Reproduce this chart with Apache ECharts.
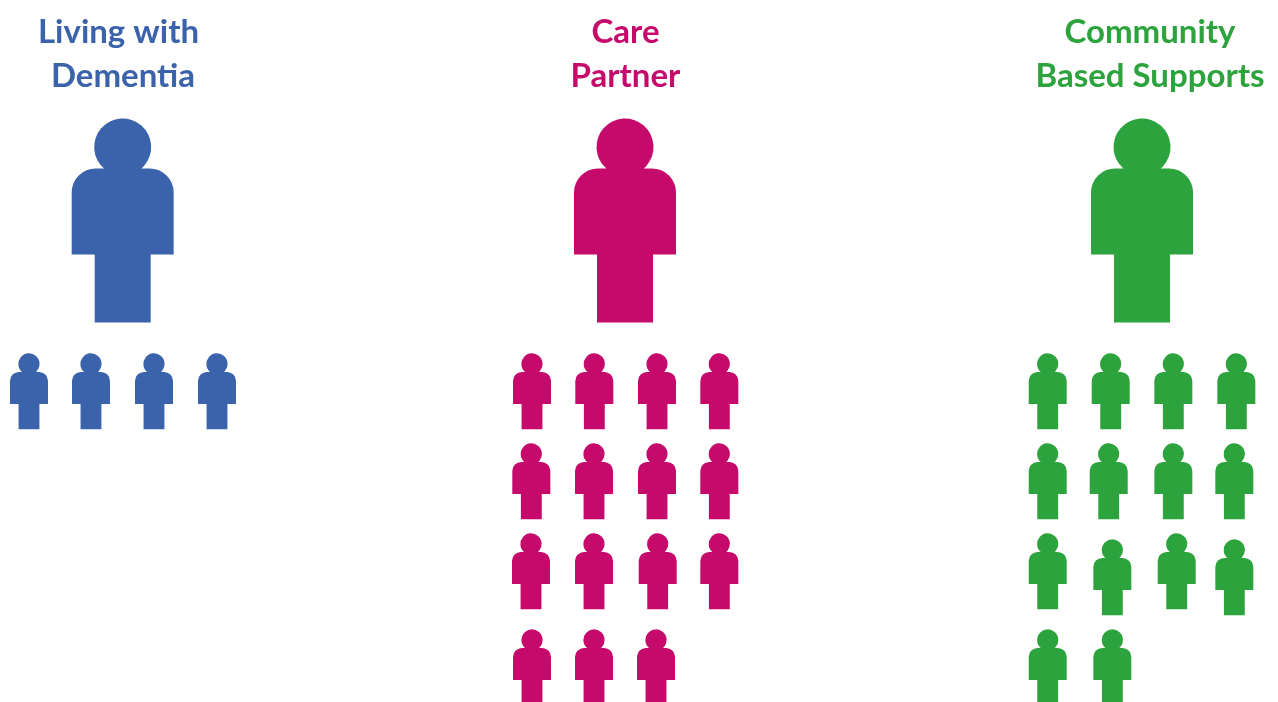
<!DOCTYPE html>
<html>
<head>
<meta charset="utf-8">
<style>
  html, body { margin: 0; padding: 0; background: #ffffff; }
  #chart { width: 1278px; height: 702px; }
</style>
<script src="https://cdn.jsdelivr.net/npm/echarts@6/dist/echarts.min.js"></script>
</head>
<body>
<div id="chart"></div>
<script>
// Group headings, one entry per line of text
const groupTitles = [
  ['Living with', 'Dementia'],
  ['Care', 'Partner'],
  ['Community', 'Based Supports']
];
const groupColors = ['#3b63ab', '#c50a6c', '#2ca33c'];

// Headline figure of each group: [column, row] in layout slots
const headlineFigures = [[1.493, -1.898], [9.498, -1.898], [17.737, -1.898]];

// One small figure per person: [column, row] in layout slots
const livingWithDementia = [[0, 0], [0.988, 0], [1.992, 0], [2.996, 0]];
const carePartner = [
  [8.016, 0], [9.009, 0], [10.008, 0], [11.001, 0],
  [8.005, 1], [9.004, 1], [10.008, 1], [11.001, 1],
  [8, 2], [9.004, 2], [10.019, 2], [11.001, 2],
  [8.016, 3.067], [9.004, 3.067], [9.992, 3.067]
];
const communitySupports = [
  [16.234, 0], [17.238, 0], [18.236, 0], [19.24, 0],
  [16.234, 1], [17.206, 1], [18.236, 1], [19.208, 1],
  [16.234, 2], [17.264, 2.067], [18.29, 2], [19.208, 2.067],
  [16.234, 3.067], [17.264, 3.067]
];
const groupMembers = [livingWithDementia, carePartner, communitySupports];

// Person outline: round head merged into rounded shoulders, arms and legs
const personPath = 'path://M32.3 50A28.5 28.5 0 1 1 69.7 50L78 50A24 24 0 0 1 102 74L102 136L79 136L79 204L23 204L23 136L0 136L0 74A24 24 0 0 1 24 50Z';

const titleLayout = [
  [{ x: 118.5 }, { x: 123 }],
  [{ x: 625.5 }, { x: 625.5 }],
  [{ x: 1150 }, { x: 1150 }]
];
const titleFont = 'Lato';

const titles = [];
groupTitles.forEach((lines, g) => {
  lines.forEach((text, l) => {
    titles.push({
      text,
      left: titleLayout[g][l].x,
      top: 13 + l * 44,
      padding: 0,
      textAlign: 'center',
      textStyle: {
        color: groupColors[g],
        fontFamily: titleFont,
        fontWeight: 'bold',
        fontSize: 33,
        lineHeight: 38
      }
    });
  });
});

const series = [];
groupMembers.forEach((members, g) => {
  series.push({
    type: 'scatter',
    clip: false,
    silent: true,
    symbol: personPath,
    symbolSize: [102, 204],
    itemStyle: { color: groupColors[g], opacity: 1 },
    data: [headlineFigures[g]]
  });
  series.push({
    type: 'scatter',
    clip: false,
    silent: true,
    symbol: personPath,
    symbolSize: [38, 76],
    itemStyle: { color: groupColors[g], opacity: 1 },
    data: members
  });
});

const chart = echarts.init(document.getElementById('chart'), null, { renderer: 'canvas' });
chart.setOption({
  animation: false,
  backgroundColor: '#ffffff',
  title: titles,
  grid: { left: 0, right: 0, top: 0, bottom: 0 },
  xAxis: { type: 'value', min: -0.462, max: 19.904, show: false },
  yAxis: { type: 'value', min: -4.348, max: 3.452, inverse: true, show: false },
  series
});
</script>
</body>
</html>
